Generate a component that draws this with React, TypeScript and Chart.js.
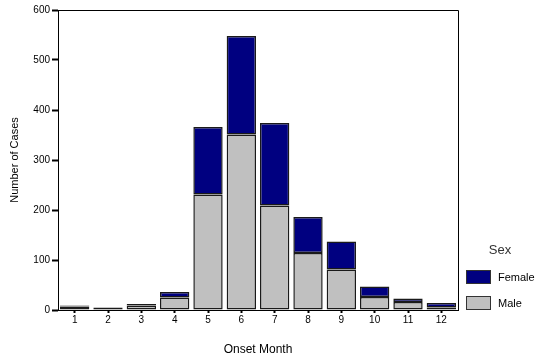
import React, { useEffect, useRef } from "react";
import { Chart, registerables } from "chart.js";

Chart.register(...registerables);

const months = ["1", "2", "3", "4", "5", "6", "7", "8", "9", "10", "11", "12"];
const maleCases = [7, 1, 9, 25, 231, 351, 209, 114, 81, 26, 16, 5];
const femaleCases = [2, 4, 3, 11, 135, 197, 165, 72, 56, 21, 7, 9];
const yMax = 600;
const yStep = 100;

const FONT = "'Liberation Sans', Arial, sans-serif";

const framePlugin = {
  id: "frame",
  afterDatasetsDraw(chart: any) {
    const { ctx, chartArea } = chart;
    ctx.save();
    ctx.strokeStyle = "#000";
    ctx.lineWidth = 1;
    ctx.beginPath();
    ctx.moveTo(chartArea.left, chartArea.top + 0.5);
    ctx.lineTo(chartArea.right + 0.5, chartArea.top + 0.5);
    ctx.lineTo(chartArea.right + 0.5, chartArea.bottom);
    ctx.stroke();
    ctx.restore();
  },
};

const legendPlugin = {
  id: "sideLegend",
  afterDraw(chart: any) {
    const { ctx, chartArea } = chart;
    const x0 = chartArea.right + 8;
    const ds = chart.data.datasets;
    ctx.save();
    ctx.fillStyle = "#333";
    ctx.font = `13px ${FONT}`;
    ctx.textAlign = "center";
    ctx.textBaseline = "middle";
    ctx.fillText("Sex", x0 + 34, chartArea.bottom - 60);
    const items = [ds[1], ds[0]];
    items.forEach((d: any, i: number) => {
      const y = chartArea.bottom - 40 + i * 26;
      ctx.fillStyle = d.backgroundColor;
      ctx.fillRect(x0, y, 25, 14);
      ctx.strokeStyle = "#333";
      ctx.lineWidth = 1;
      ctx.strokeRect(x0 + 0.5, y + 0.5, 24, 13);
      ctx.fillStyle = "#000";
      ctx.font = `11px ${FONT}`;
      ctx.textAlign = "left";
      ctx.fillText(d.label, x0 + 32, y + 8);
    });
    ctx.restore();
  },
};

export default function App() {
  const ref = useRef<HTMLCanvasElement | null>(null);

  useEffect(() => {
    if (!ref.current) return;
    const chart = new Chart(ref.current, {
      type: "bar",
      data: {
        labels: months,
        datasets: [
          {
            label: "Male",
            data: maleCases,
            backgroundColor: "#c0c0c0",
            borderColor: "#1a1a1a",
            borderWidth: 1.5,
            borderSkipped: false,
            barPercentage: 0.88,
            categoryPercentage: 1,
          },
          {
            label: "Female",
            data: femaleCases,
            backgroundColor: "#000080",
            borderColor: "#1a1a1a",
            borderWidth: 1.5,
            borderSkipped: false,
            barPercentage: 0.88,
            categoryPercentage: 1,
          },
        ],
      },
      options: {
        responsive: false,
        animation: false,
        layout: { padding: { top: 10, right: 78, left: 0, bottom: 0 } },
        plugins: {
          legend: { display: false },
          tooltip: { enabled: false },
        },
        scales: {
          x: {
            stacked: true,
            afterFit: (s: any) => {
              s.height = 52;
            },
            grid: {
              offset: false,
              drawOnChartArea: false,
              drawTicks: true,
              tickLength: 3,
              tickWidth: 2,
              color: "#000",
            },
            border: { display: true, color: "#000", width: 1 },
            ticks: {
              color: "#000",
              font: { family: FONT, size: 10 },
              padding: 1,
              maxRotation: 0,
            },
            title: {
              display: true,
              text: "Onset Month",
              color: "#000",
              font: { family: FONT, size: 12 },
              padding: { top: 0, bottom: 5 },
            },
          },
          y: {
            stacked: true,
            min: 0,
            max: yMax,
            afterFit: (s: any) => {
              s.width = 58;
            },
            grid: {
              drawOnChartArea: false,
              drawTicks: true,
              tickLength: 6,
              tickWidth: 2,
              color: "#000",
            },
            border: { display: true, color: "#000", width: 1 },
            ticks: {
              stepSize: yStep,
              color: "#000",
              font: { family: FONT, size: 10 },
              padding: 2,
            },
            title: {
              display: true,
              text: "Number of Cases",
              color: "#000",
              font: { family: FONT, size: 11 },
              padding: { top: 8, bottom: 0 },
            },
          },
        },
      },
      plugins: [framePlugin, legendPlugin],
    });
    return () => chart.destroy();
  }, []);

  return (
    <div style={{ position: "absolute", left: 0, top: 0, width: 536, height: 362, background: "#fff" }}>
      <canvas ref={ref} width={536} height={362} />
    </div>
  );
}
